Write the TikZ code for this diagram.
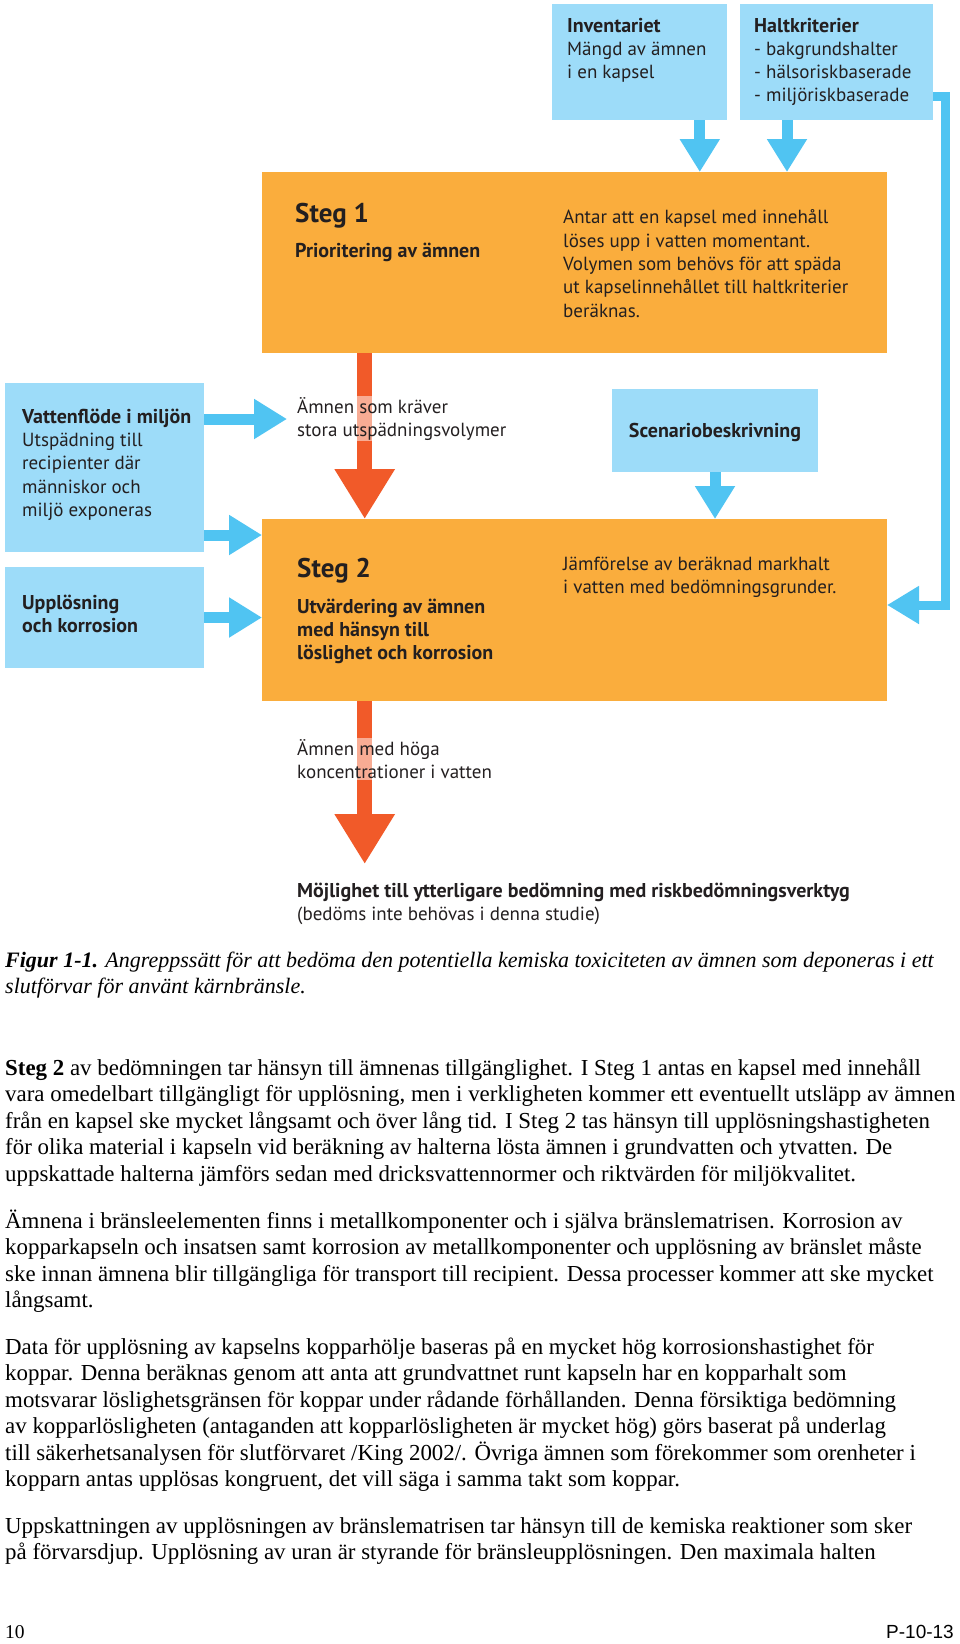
\documentclass[tikz,border=0pt]{standalone}
\usepackage{fontspec}
\setmainfont{Liberation Serif}
\setsansfont{Liberation Sans}
\newfontfamily\diagfont{PT Sans}
\usetikzlibrary{arrows.meta}

\definecolor{boxblue}{RGB}{157,220,249}
\definecolor{arrowblue}{RGB}{80,196,242}
\definecolor{boxorange}{RGB}{250,173,61}
\definecolor{arrowred}{RGB}{241,90,41}
\definecolor{inktext}{RGB}{35,31,32}

\newcommand\hd[1]{{\bfseries\fontsize{20}{23.3}\selectfont #1}}

\tikzset{
  box/.style={inner sep=0pt, outer sep=0pt, anchor=north west},
  bluebox/.style={box, fill=boxblue},
  orangebox/.style={box, fill=boxorange},
  bluearr/.style={draw=arrowblue, line width=11pt, -{Triangle[length=33pt,width=38pt]}},
  redarr/.style={draw=arrowred, line width=15.5pt, -{Triangle[length=50pt,width=57pt]}},
  % anchor of a text block is the baseline of its last line
  lbl/.style={inner sep=0pt, anchor=base west, align=left, text=inktext,
    font=\diagfont\fontsize{19}{23.3}\selectfont},
  bold lbl/.style={lbl, font=\diagfont\bfseries\fontsize{20}{23.3}\selectfont},
  stegtitle/.style={lbl, font=\diagfont\bfseries\fontsize{27}{30}\selectfont},
  patch/.style={fill=white, fill opacity=0.5, text opacity=1, inner sep=1pt},
  body/.style={inner sep=0pt, anchor=base west, align=left,
    font=\fontsize{22.9}{26.5}\selectfont}
}

\begin{document}
\begin{tikzpicture}[x=1pt, y=-1pt]
  \fill[white] (0,0) rectangle (960,1644);
  \useasboundingbox (0,0) rectangle (960,1644);

  % boxes
  \node[bluebox, minimum width=175pt, minimum height=116pt] (inv) at (551.5,4) {};
  \node[bluebox, minimum width=193pt, minimum height=116pt] (halt) at (740,4) {};
  \node[orangebox, minimum width=625pt, minimum height=181pt] (steg1) at (262,172) {};
  \node[bluebox, minimum width=199pt, minimum height=169pt] (vatten) at (5,383) {};
  \node[bluebox, minimum width=199pt, minimum height=101pt] (uppl) at (5,567) {};
  \node[bluebox, minimum width=206pt, minimum height=83pt] (scen) at (612,389) {};
  \node[orangebox, minimum width=625pt, minimum height=182pt] (steg2) at (262,519) {};

  % texts in the boxes
  \node[lbl] (invtxt) at (567,78.6) {\hd{Inventariet}\\Mängd av ämnen\\i en kapsel};
  \node[lbl] (halttxt) at (754,101.9) {\hd{Haltkriterier}\\- bakgrundshalter\\- hälsoriskbaserade\\- miljöriskbaserade};
  \node[stegtitle] (s1title) at (295,222) {Steg 1};
  \node[bold lbl] (s1sub) at (295,257) {Prioritering av ämnen};
  \node[lbl] (s1txt) at (563,317) {Antar att en kapsel med innehåll\\löses upp i vatten momentant.\\Volymen som behövs för att späda\\ut kapselinnehållet till haltkriterier\\beräknas.};
  \node[lbl] (vattxt) at (22,516.5) {\hd{Vattenflöde i miljön}\\Utspädning till\\recipienter där\\människor och\\miljö exponeras};
  \node[bold lbl] (uppltxt) at (22,632.5) {Upplösning\\och korrosion};
  \node[bold lbl, anchor=base] (scentxt) at (715,437) {Scenariobeskrivning};
  \node[stegtitle] (s2title) at (297,577) {Steg 2};
  \node[bold lbl] (s2sub) at (297,659.6) {Utvärdering av ämnen\\med hänsyn till\\löslighet och korrosion};
  \node[lbl] (s2txt) at (563,593.3) {Jämförelse av beräknad markhalt\\i vatten med bedömningsgrunder.};

  % blue arrows
  \draw[bluearr] ([xshift=-26.7pt]inv.south east) -- ([xshift=-26.7pt]inv.south east |- steg1.north);
  \draw[bluearr] ([xshift=47pt]halt.south west) -- ([xshift=47pt]halt.south west |- steg1.north);
  \coordinate (v1) at ([yshift=-36pt]vatten.north east);
  \coordinate (t1) at (287,419);
  \draw[bluearr] (v1) -- (t1);
  \coordinate (v2) at ([yshift=17pt]vatten.south east);
  \draw[bluearr] (v2) -- (v2 -| steg2.west);
  \draw[bluearr] (uppl.east) -- (uppl.east -| steg2.west);
  \draw[bluearr] (scen.south) -- (scen.south |- steg2.north);
  \coordinate (h1) at ([yshift=24pt]halt.south east);
  \coordinate (h2) at ([yshift=5pt]steg2.east);
  \draw[bluearr, line width=9pt, -{Triangle[length=32pt,width=36pt]}] (h1) -- ++(12.5,0) |- (h2);

  % red arrows
  \coordinate (r1) at ([xshift=102.7pt]steg1.south west);
  \draw[redarr] (r1) -- (r1 |- steg2.north);
  \coordinate (r2) at ([xshift=102.7pt]steg2.south west);
  \coordinate (rend) at (364.7,864);
  \draw[redarr] (r2) -- (rend);
  \node[lbl, patch] (amn1) at (296,436.3) {Ämnen som kräver\\stora utspädningsvolymer};
  \node[lbl, patch] (amn2) at (296,778.3) {Ämnen med höga\\koncentrationer i vatten};
  \node[lbl] (moj) at (297,920.3) {\hd{Möjlighet till ytterligare bedömning med riskbedömningsverktyg}\\(bedöms inte behövas i denna studie)};

  % caption and page text
  \node[body, font=\itshape\fontsize{22}{26}\selectfont] (caption) at (5,993) {\textbf{Figur 1-1.} Angreppssätt för att bedöma den potentiella kemiska toxiciteten av ämnen som deponeras i ett\\slutförvar för använt kärnbränsle.};
  \node[body] (para1) at (5,1181) {\textbf{Steg 2} av bedömningen tar hänsyn till ämnenas tillgänglighet. I Steg 1 antas en kapsel med innehåll\\vara omedelbart tillgängligt för upplösning, men i verkligheten kommer ett eventuellt utsläpp av ämnen\\från en kapsel ske mycket långsamt och över lång tid. I Steg 2 tas hänsyn till upplösningshastigheten\\för olika material i kapseln vid beräkning av halterna lösta ämnen i grundvatten och ytvatten. De\\uppskattade halterna jämförs sedan med dricksvattennormer och riktvärden för miljökvalitet.};
  \node[body] (para2) at (5,1307.5) {Ämnena i bränsleelementen finns i metallkomponenter och i själva bränslematrisen. Korrosion av\\kopparkapseln och insatsen samt korrosion av metallkomponenter och upplösning av bränslet måste\\ske innan ämnena blir tillgängliga för transport till recipient. Dessa processer kommer att ske mycket\\långsamt.};
  \node[body] (para3) at (5,1486.5) {Data för upplösning av kapselns kopparhölje baseras på en mycket hög korrosionshastighet för\\koppar. Denna beräknas genom att anta att grundvattnet runt kapseln har en kopparhalt som\\motsvarar löslighetsgränsen för koppar under rådande förhållanden. Denna försiktiga bedömning\\av kopparlösligheten (antaganden att kopparlösligheten är mycket hög) görs baserat på underlag\\till säkerhetsanalysen för slutförvaret /King 2002/. Övriga ämnen som förekommer som orenheter i\\kopparn antas upplösas kongruent, det vill säga i samma takt som koppar.};
  \node[body] (para4) at (5,1559.5) {Uppskattningen av upplösningen av bränslematrisen tar hänsyn till de kemiska reaktioner som sker\\på förvarsdjup. Upplösning av uran är styrande för bränsleupplösningen. Den maximala halten};
  \node[body, font=\fontsize{19.5}{22}\selectfont] (pageno) at (5,1638) {10};
  \node[body, anchor=base east, font=\sffamily\fontsize{19}{22}\selectfont] (report) at (954,1638) {P-10-13};
\end{tikzpicture}
\end{document}
